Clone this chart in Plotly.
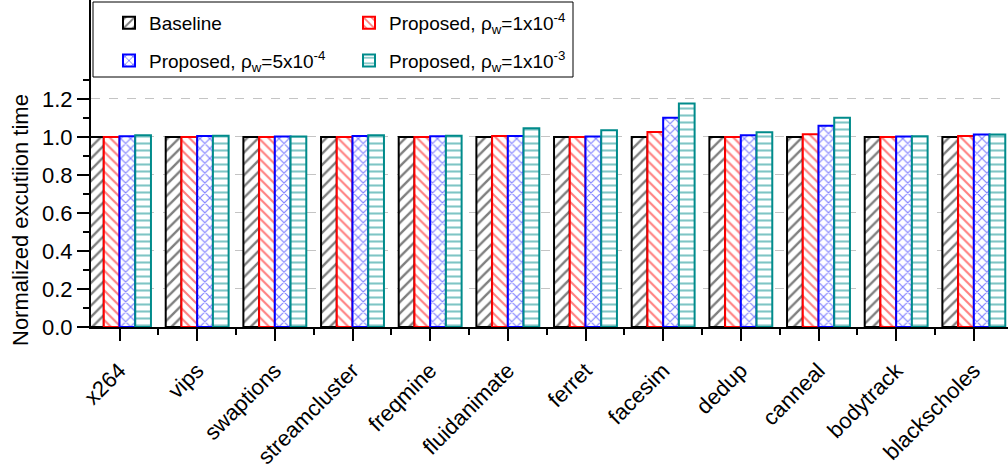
import plotly.graph_objects as go

categories = ["x264", "vips", "swaptions", "streamcluster", "freqmine", "fluidanimate",
              "ferret", "facesim", "dedup", "canneal", "bodytrack", "blackscholes"]
baseline = [1.0] * 12
p_1e4 = [1.000, 1.000, 1.000, 1.000, 1.000, 1.005, 1.000, 1.026, 1.000, 1.014, 1.000, 1.005]
p_5e4 = [1.003, 1.005, 1.002, 1.004, 1.003, 1.005, 1.002, 1.100, 1.008, 1.058, 1.002, 1.013]
p_1e3 = [1.008, 1.006, 1.002, 1.008, 1.006, 1.045, 1.035, 1.175, 1.024, 1.100, 1.003, 1.013]
y_ticks = [0.0, 0.2, 0.4, 0.6, 0.8, 1.0, 1.2]
y_minor = [0.1, 0.3, 0.5, 0.7, 0.9, 1.1, 1.3]

xpos = list(range(len(categories)))

series = [
    ("Baseline", baseline, "black", "/", "legend", 8),
    ("Proposed, ρ<sub>w</sub>=1x10<sup>-4</sup>", p_1e4, "red", "\\", "legend2", 7),
    ("Proposed, ρ<sub>w</sub>=5x10<sup>-4</sup>", p_5e4, "blue", "x", "legend", 7),
    ("Proposed, ρ<sub>w</sub>=1x10<sup>-3</sup>", p_1e3, "#008B8B", "-", "legend2", 7),
]

fig = go.Figure()
for i, (name, vals, col, shape, leg, sz) in enumerate(series):
    fig.add_trace(go.Bar(
        x=xpos, y=vals, name=name, legend=leg, legendgroup=f"g{i}",
        marker=dict(color="white", line=dict(color=col, width=2),
                    pattern=dict(shape=shape, fgcolor=col, bgcolor="white",
                                 size=sz, solidity=0.3)),
    ))

W, H = 1008, 471
L, R, T, B = 91, 0, 0, 144
pw, ph = W - L - R, H - T - B

def px_x(p):
    return (p - L) / pw

def px_y(p):
    return (H - B - p) / ph

FAM = "Liberation Sans, Arial, sans-serif"
legend_font = dict(family=FAM, size=19, color="black")
tick_font = dict(family=FAM, size=22, color="black")

fig.update_layout(
    width=W, height=H,
    margin=dict(l=L, r=R, t=T, b=B),
    plot_bgcolor="white", paper_bgcolor="white",
    font=legend_font,
    barmode="group", bargap=0.19, bargroupgap=0,
    xaxis=dict(
        range=[-0.367, 11.44], tickmode="array", tickvals=xpos, ticktext=categories,
        tickangle=-45, showline=True, linecolor="black", linewidth=2,
        ticks="outside", ticklen=12, tickwidth=2, tickcolor="black",
        ticklabelstandoff=8,
        showgrid=False, zeroline=False,
        minor=dict(tickmode="linear", tick0=0.5, dtick=1, ticks="outside",
                   ticklen=6, tickwidth=2, tickcolor="black", showgrid=False),
        tickfont=tick_font,
    ),
    yaxis=dict(
        range=[0, 1.72], tickmode="array", tickvals=y_ticks,
        ticktext=[f"{v:.1f}" for v in y_ticks],
        showline=True, linecolor="black", linewidth=2,
        ticks="outside", ticklen=12, tickwidth=2, tickcolor="black",
        showgrid=True, gridcolor="#c4c4c4", gridwidth=1, griddash="dash",
        zeroline=False,
        minor=dict(tickmode="array", tickvals=y_minor, ticks="outside",
                   ticklen=6, tickwidth=2, tickcolor="black", showgrid=False),
        tickfont=tick_font,
    ),
    legend=dict(x=px_x(109), y=px_y(4), xanchor="left", yanchor="top",
                bgcolor="rgba(0,0,0,0)", borderwidth=0, font=legend_font,
                tracegroupgap=10, orientation="v"),
    legend2=dict(x=px_x(349), y=px_y(4), xanchor="left", yanchor="top",
                 bgcolor="rgba(0,0,0,0)", borderwidth=0, font=legend_font,
                 tracegroupgap=10, orientation="v"),
    showlegend=True,
)

fig.add_annotation(text="Normalized excutiion time", xref="paper", yref="paper",
                   x=px_x(20), y=px_y(220), xanchor="center", yanchor="middle",
                   textangle=-90, showarrow=False, font=tick_font)

fig.add_shape(type="rect", xref="paper", yref="paper",
              x0=px_x(93), x1=px_x(573), y0=px_y(77), y1=px_y(2),
              line=dict(color="black", width=1), fillcolor="white", layer="below")

fig.write_html("out.html")
